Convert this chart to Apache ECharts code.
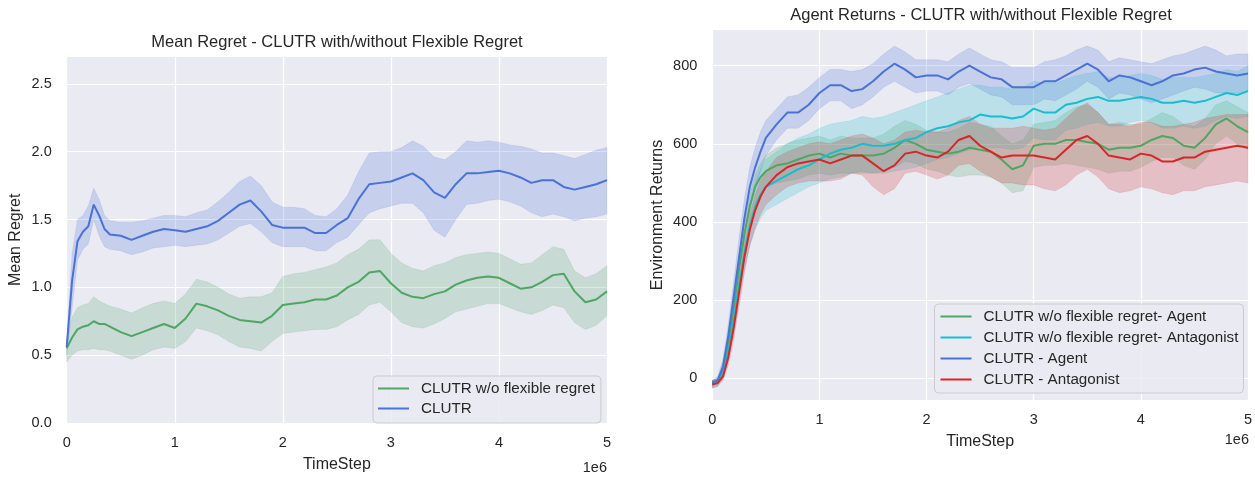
<!DOCTYPE html>
<html><head><meta charset="utf-8">
<script src="https://cdn.jsdelivr.net/npm/echarts@6/dist/echarts.min.js"></script>
<style>html,body{margin:0;padding:0;background:#fff}#c{width:1255px;height:478px}</style>
</head><body><div id="c"></div>
<script>
const FONT = '"Liberation Sans", Arial, sans-serif';
const TXT = '#262626';

// ---------- Left chart: Mean Regret ----------
const leftTitle = 'Mean Regret - CLUTR with/without Flexible Regret';
const leftNames = ['CLUTR w/o flexible regret', 'CLUTR'];
const stepsLeft = [0,0.05,0.1,0.15,0.2,0.25,0.3,0.35,0.4,
  0.5,0.6,0.7,0.8,0.9,1.0,1.1,1.2,1.3,1.4,1.5,1.6,1.7,1.8,1.9,2.0,2.1,2.2,2.3,2.4,2.5,
  2.6,2.7,2.8,2.9,3.0,3.1,3.2,3.3,3.4,3.5,3.6,3.7,3.8,3.9,4.0,4.1,4.2,4.3,4.4,4.5,4.6,4.7,4.8,4.9,5.0];
const noflexMean = [0.55,0.63,0.69,0.71,0.72,0.75,0.73,0.73,0.71,
  0.67,0.64,0.67,0.70,0.73,0.70,0.77,0.88,0.86,0.83,0.79,0.76,0.75,0.74,0.79,0.87,0.88,0.89,0.91,0.91,0.94,
  1.00,1.04,1.11,1.12,1.03,0.96,0.93,0.92,0.95,0.97,1.02,1.05,1.07,1.08,1.07,1.03,0.99,1.00,1.04,1.09,1.10,0.97,0.89,0.91,0.97];
const noflexUpper = [0.60,0.78,0.85,0.87,0.88,0.93,0.90,0.88,0.86,
  0.84,0.81,0.85,0.88,0.90,0.88,0.95,1.06,1.04,1.00,0.95,0.92,0.93,0.93,0.96,1.08,1.10,1.11,1.13,1.15,1.18,
  1.24,1.28,1.35,1.35,1.25,1.18,1.14,1.12,1.16,1.18,1.22,1.24,1.25,1.26,1.25,1.21,1.17,1.18,1.24,1.30,1.28,1.12,1.07,1.10,1.16];
const noflexLower = [0.45,0.50,0.53,0.54,0.54,0.55,0.54,0.54,0.53,
  0.50,0.47,0.50,0.54,0.56,0.55,0.60,0.70,0.68,0.65,0.60,0.56,0.55,0.53,0.60,0.66,0.67,0.68,0.69,0.69,0.71,
  0.76,0.80,0.87,0.89,0.82,0.74,0.71,0.70,0.73,0.77,0.82,0.84,0.86,0.88,0.88,0.85,0.82,0.80,0.83,0.87,0.85,0.74,0.69,0.72,0.79];
const clutrMean = [0.56,1.05,1.34,1.41,1.45,1.61,1.53,1.43,1.39,
  1.38,1.35,1.38,1.41,1.43,1.42,1.41,1.43,1.45,1.49,1.55,1.61,1.64,1.56,1.46,1.44,1.44,1.44,1.40,1.40,1.46,
  1.51,1.65,1.76,1.77,1.78,1.81,1.84,1.79,1.70,1.66,1.76,1.84,1.84,1.85,1.86,1.84,1.81,1.77,1.79,1.79,1.74,1.72,1.74,1.76,1.79];
const clutrUpper = [0.60,1.25,1.50,1.53,1.60,1.73,1.65,1.53,1.49,
  1.48,1.48,1.49,1.51,1.53,1.53,1.52,1.55,1.57,1.63,1.70,1.78,1.82,1.75,1.63,1.59,1.59,1.58,1.53,1.52,1.58,
  1.68,1.85,1.99,2.00,2.00,2.03,2.08,2.04,1.96,1.94,2.00,2.08,2.07,2.08,2.07,2.05,2.04,2.02,1.99,1.99,1.97,1.95,1.98,2.01,2.03];
const clutrLower = [0.50,0.85,1.20,1.28,1.32,1.50,1.38,1.30,1.28,
  1.27,1.24,1.26,1.29,1.30,1.31,1.30,1.31,1.32,1.35,1.40,1.45,1.47,1.41,1.33,1.30,1.30,1.30,1.27,1.27,1.33,
  1.37,1.46,1.55,1.58,1.60,1.62,1.62,1.55,1.42,1.37,1.50,1.61,1.62,1.64,1.65,1.63,1.60,1.55,1.52,1.54,1.52,1.49,1.51,1.52,1.54];

// ---------- Right chart: Environment Returns ----------
const rightTitle = 'Agent Returns - CLUTR with/without Flexible Regret';
const rightNames = ['CLUTR w/o flexible regret- Agent', 'CLUTR w/o flexible regret- Antagonist', 'CLUTR - Agent', 'CLUTR - Antagonist'];
const stepsRight = [0,0.05,0.1,0.15,0.2,0.25,0.3,0.35,0.4,0.45,
  0.5,0.6,0.7,0.8,0.9,1.0,1.1,1.2,1.3,1.4,1.5,1.6,1.7,1.8,1.9,2.0,2.1,2.2,2.3,2.4,2.5,
  2.6,2.7,2.8,2.9,3.0,3.1,3.2,3.3,3.4,3.5,3.6,3.7,3.8,3.9,4.0,4.1,4.2,4.3,4.4,4.5,4.6,4.7,4.8,4.9,5.0];
const noflexAgent = [-12,-5,25,95,180,280,370,440,490,515,
  530,545,550,560,570,575,565,575,570,570,570,575,590,610,600,585,580,575,580,590,585,
  580,560,535,545,595,600,600,610,610,605,600,585,590,590,595,610,620,615,595,590,615,650,665,645,630];
const noflexAgentUp = [-5,0,40,120,210,310,400,470,520,550,
  570,590,600,610,615,620,610,620,615,615,615,625,645,660,650,635,630,630,640,655,650,
  645,620,600,610,650,655,660,680,695,700,680,650,655,650,650,665,680,670,650,645,665,700,710,695,680];
const noflexAgentLo = [-20,-12,10,70,150,250,330,400,445,470,
  490,500,505,510,520,525,520,525,525,525,525,530,540,555,550,535,530,520,515,520,520,
  515,500,475,480,540,545,545,550,545,540,535,525,530,530,540,555,565,565,545,535,560,600,620,600,585];
const noflexAnt = [-15,-10,10,70,150,240,320,390,440,470,
  490,505,520,535,545,560,575,585,590,600,595,595,600,610,615,630,640,645,655,660,675,
  670,670,665,670,690,680,680,700,705,715,720,710,710,715,720,715,705,705,710,705,710,720,730,725,735];
const noflexAntUp = [-5,0,25,95,185,280,370,440,500,535,
  560,580,600,615,625,640,650,655,660,670,665,670,680,690,700,710,720,730,740,750,750,
  745,745,740,745,760,755,755,765,775,780,785,770,770,775,780,775,765,770,770,770,775,780,790,785,800];
const noflexAntLo = [-25,-20,0,45,115,200,280,340,380,410,
  430,445,460,475,490,500,510,515,525,530,525,525,530,535,540,550,560,565,575,585,595,
  590,590,585,590,615,610,610,635,640,650,655,645,645,655,660,655,640,640,645,640,645,660,670,665,670];
const clutrAgent = [-10,-5,30,110,210,310,410,490,540,580,
  615,650,680,680,700,730,750,750,735,740,760,785,805,790,770,775,775,765,785,800,785,
  770,765,745,745,745,760,760,775,790,805,790,760,775,770,760,750,760,775,780,790,795,785,780,775,780];
const clutrAgentUp = [-5,5,50,140,250,360,460,540,590,630,
  660,690,720,725,745,770,790,790,785,790,805,830,850,835,815,815,815,810,830,845,830,
  815,810,795,795,795,810,815,825,840,850,840,810,820,815,810,805,815,825,830,840,850,840,825,830,830];
const clutrAgentLo = [-20,-15,15,80,180,270,360,440,490,530,
  570,610,640,640,660,690,710,710,690,700,720,745,760,745,730,735,735,725,745,755,740,
  725,720,700,700,700,715,710,725,740,760,745,715,730,725,715,705,715,725,735,745,740,730,730,730,735];
const clutrAnt = [-15,-12,5,55,130,220,310,380,430,465,
  490,520,540,550,555,560,550,560,570,570,550,530,545,575,580,570,565,580,610,620,595,
  580,565,570,570,570,565,560,585,610,620,600,570,565,560,575,570,555,555,565,565,580,585,590,595,590];
const clutrAntUp = [-5,-2,20,80,160,255,345,420,470,505,
  530,565,580,590,600,605,600,610,620,625,615,600,610,630,635,630,630,640,660,670,650,
  640,640,640,645,640,635,640,665,690,705,680,650,650,645,655,655,645,645,650,655,665,670,675,675,675];
const clutrAntLo = [-25,-20,-5,35,100,185,270,340,385,420,
  445,470,490,500,505,505,505,510,525,520,490,470,485,525,530,520,510,520,545,550,530,
  515,500,500,495,495,485,480,495,520,535,515,485,475,480,490,485,475,470,480,480,490,495,500,505,500];

const xTickLabels = ['0','1','2','3','4','5'];
const leftYTicks = ['0.0','0.5','1.0','1.5','2.0','2.5'];
const rightYTicks = ['0','200','400','600','800'];

const C_GREEN = '#4ea663', C_BLUE = '#4a72d4', C_CYAN = '#17becf', C_RED = '#d62728';

function hexA(hex, a) {
  const n = parseInt(hex.slice(1), 16);
  return 'rgba(' + (n >> 16) + ',' + ((n >> 8) & 255) + ',' + (n & 255) + ',' + a + ')';
}
function pairs(xs, ys) { return xs.map((x, i) => [x, ys[i]]); }
function band(xs, lo, hi, color, gi) {
  return { type: 'custom', coordinateSystem: 'cartesian2d', xAxisIndex: gi, yAxisIndex: gi,
    data: xs.map((x, i) => [x, lo[i], hi[i]]), encode: { x: 0, y: [1, 2] },
    silent: true, clip: true, z: 1,
    renderItem: function (params, api) {
      if (params.dataIndex !== 0) return null;
      const pts = [];
      for (let i = 0; i < xs.length; i++) pts.push(api.coord([xs[i], hi[i]]));
      for (let i = xs.length - 1; i >= 0; i--) pts.push(api.coord([xs[i], lo[i]]));
      return { type: 'polygon', shape: { points: pts },
        style: { fill: hexA(color, 0.22), stroke: hexA(color, 0.12), lineWidth: 1 } };
    } };
}
function line(name, xs, ys, color, gi) {
  return { type: 'line', name: name, xAxisIndex: gi, yAxisIndex: gi, data: pairs(xs, ys),
    symbol: 'none', lineStyle: { width: 2, color: color }, itemStyle: { color: color }, z: 3 };
}

const series = [
  band(stepsLeft, noflexLower, noflexUpper, C_GREEN, 0),
  band(stepsLeft, clutrLower, clutrUpper, C_BLUE, 0),
  line(leftNames[0], stepsLeft, noflexMean, C_GREEN, 0),
  line(leftNames[1], stepsLeft, clutrMean, C_BLUE, 0),
  band(stepsRight, noflexAgentLo, noflexAgentUp, C_GREEN, 1),
  band(stepsRight, noflexAntLo, noflexAntUp, C_CYAN, 1),
  band(stepsRight, clutrAgentLo, clutrAgentUp, C_BLUE, 1),
  band(stepsRight, clutrAntLo, clutrAntUp, C_RED, 1),
  line(rightNames[0], stepsRight, noflexAgent, C_GREEN, 1),
  line(rightNames[1], stepsRight, noflexAnt, C_CYAN, 1),
  line(rightNames[2], stepsRight, clutrAgent, C_BLUE, 1),
  line(rightNames[3], stepsRight, clutrAnt, C_RED, 1)
];

function xAxis(gi, gap) {
  return { type: 'value', gridIndex: gi, min: 0, max: 5, interval: 1,
    name: 'TimeStep', nameLocation: 'middle', nameGap: gap,
    nameTextStyle: { fontFamily: FONT, fontSize: 16, color: TXT },
    axisLine: { show: false }, axisTick: { show: false },
    axisLabel: { margin: 12, fontFamily: FONT, fontSize: 14.5, color: TXT,
      formatter: v => xTickLabels[Math.round(v)] },
    splitLine: { show: true, lineStyle: { color: '#ffffff', width: 1.2 } } };
}

const option = {
  animation: false,
  backgroundColor: '#ffffff',
  title: [
    { text: leftTitle, left: 337, top: 33.5, textAlign: 'center', padding: 0,
      textStyle: { fontFamily: FONT, fontSize: 16.5, fontWeight: 'normal', color: TXT } },
    { text: rightTitle, left: 981, top: 7, textAlign: 'center', padding: 0,
      textStyle: { fontFamily: FONT, fontSize: 16.5, fontWeight: 'normal', color: TXT } }
  ],
  grid: [
    { left: 66.7, top: 56.7, width: 540.3, height: 371.6, show: true, backgroundColor: '#eaeaf2', borderWidth: 0 },
    { left: 712.3, top: 29.3, width: 536.7, height: 371.4, show: true, backgroundColor: '#eaeaf2', borderWidth: 0 }
  ],
  xAxis: [xAxis(0, 34), xAxis(1, 33)],
  yAxis: [
    { type: 'value', gridIndex: 0, min: 0, max: 2.7, interval: 0.5,
      name: 'Mean Regret', nameLocation: 'middle', nameGap: 43, nameRotate: 90,
      nameTextStyle: { fontFamily: FONT, fontSize: 16, color: TXT },
      axisLine: { show: false }, axisTick: { show: false },
      axisLabel: { margin: 15, fontFamily: FONT, fontSize: 14.5, color: TXT, showMaxLabel: false,
        formatter: v => leftYTicks[Math.round(v / 0.5)] || '' },
      splitLine: { show: true, lineStyle: { color: '#ffffff', width: 1.2 } } },
    { type: 'value', gridIndex: 1, min: -57, max: 893, splitNumber: 5,
      name: 'Environment Returns', nameLocation: 'middle', nameGap: 47, nameRotate: 90,
      nameTextStyle: { fontFamily: FONT, fontSize: 16, color: TXT },
      axisLine: { show: false }, axisTick: { show: false },
      axisLabel: { margin: 15, fontFamily: FONT, fontSize: 14.5, color: TXT, showMinLabel: false, showMaxLabel: false,
        formatter: v => (rightYTicks.indexOf(String(v)) >= 0 ? String(v) : '') },
      splitLine: { show: true, lineStyle: { color: '#ffffff', width: 1.2 } } }
  ],
  legend: [
    { data: leftNames, orient: 'vertical', left: 373, top: 376, icon: 'rect', itemWidth: 31, itemHeight: 2,
      itemGap: 5, padding: [5, 6, 7, 5], backgroundColor: 'rgba(234,234,242,0.8)', borderColor: '#cccccc',
      borderWidth: 1, borderRadius: 4, selectedMode: false,
      textStyle: { fontFamily: FONT, fontSize: 15.2, color: TXT, lineHeight: 15, padding: [0, 0, 0, 7] } },
    { data: rightNames, orient: 'vertical', left: 934.5, top: 304, icon: 'rect', itemWidth: 31, itemHeight: 2,
      itemGap: 6, padding: [5, 5, 6, 6], backgroundColor: 'rgba(234,234,242,0.8)', borderColor: '#cccccc',
      borderWidth: 1, borderRadius: 4, selectedMode: false,
      textStyle: { fontFamily: FONT, fontSize: 15.2, color: TXT, lineHeight: 15, padding: [0, 0, 0, 7] } }
  ],
  graphic: [
    { type: 'text', right: 648, top: 460, style: { text: '1e6', font: '14.5px ' + FONT, fill: TXT } },
    { type: 'text', right: 6, top: 432, style: { text: '1e6', font: '14.5px ' + FONT, fill: TXT } }
  ],
  series: series
};

const chart = echarts.init(document.getElementById('c'), null, { renderer: 'canvas' });
chart.setOption(option);
</script>
</body></html>
